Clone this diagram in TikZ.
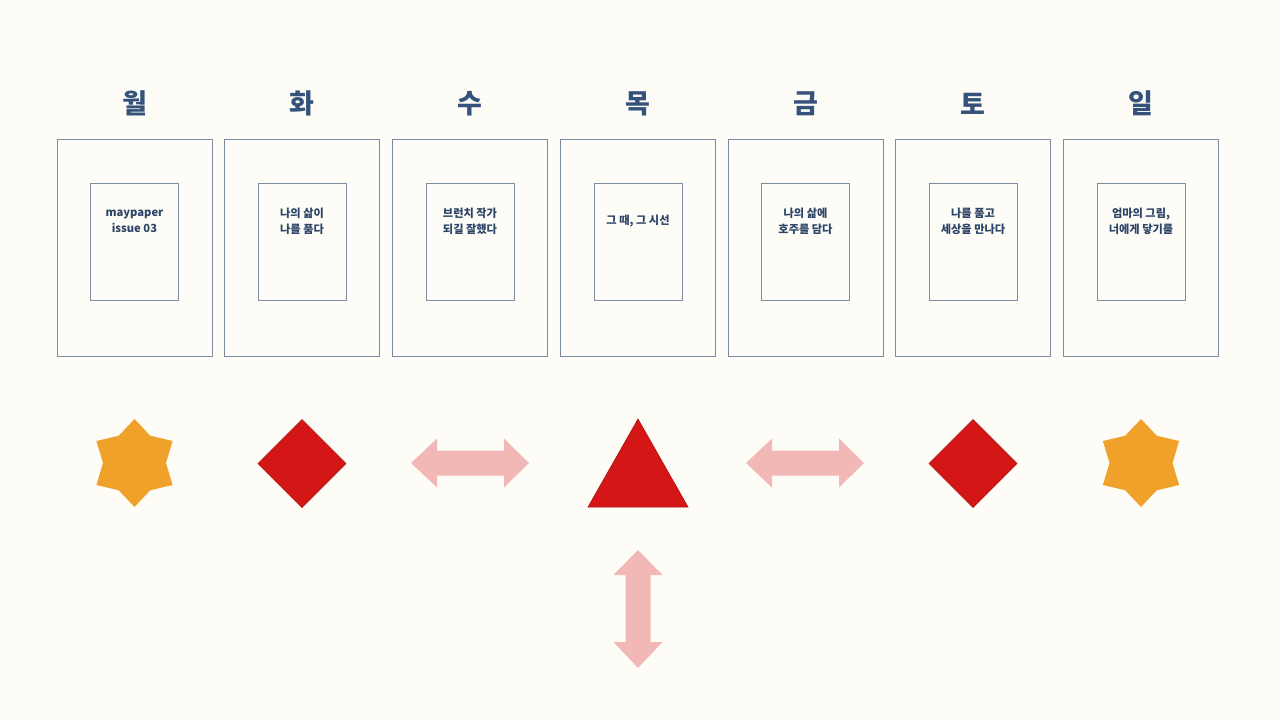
\documentclass[tikz,border=0pt]{standalone}
\usepackage{fontspec}
\setmainfont{Noto Sans CJK KR}
\usetikzlibrary{calc}
\definecolor{bgcream}{HTML}{FEFCF7}
\definecolor{headblue}{HTML}{34527A}
\definecolor{textblue}{HTML}{2C4466}
\definecolor{boxline}{HTML}{7D8CA3}
\definecolor{starorange}{HTML}{F0A12A}
\definecolor{shapered}{HTML}{D41616}
\definecolor{edgered}{HTML}{B01010}
\definecolor{arrowpink}{HTML}{F2B8B5}
\begin{document}
\begin{tikzpicture}[x=1pt,y=-1pt,
  dayhead/.style={font=\fontsize{27}{30}\selectfont\bfseries, text=headblue, inner sep=0pt},
  outerbox/.style={draw=boxline, line width=0.9pt, minimum width=155pt, minimum height=217pt, inner sep=0pt},
  innerbox/.style={draw=boxline, line width=0.9pt, minimum width=88pt, minimum height=117pt, inner sep=0pt},
  covertext/.style={font=\fontsize{11.2}{16}\selectfont\bfseries, text=textblue, align=center, inner sep=0pt},
  dblarrow/.style={fill=arrowpink},
  starshape/.style={fill=starorange},
  redshape/.style={fill=shapered, draw=edgered, line width=0.6pt, line join=miter}
]
\fill[bgcream] (0,0) rectangle (1280,720);
\useasboundingbox (0,0) rectangle (1280,720);

\foreach \n/\cx/\day/\txt in {
  mon/134.5/월/{maypaper\\issue 03},
  tue/302/화/{나의 삶이\\나를 품다},
  wed/470/수/{브런치 작가\\되길 잘했다},
  thu/638/목/{그 때, 그 시선},
  fri/805.5/금/{나의 삶에\\호주를 담다},
  sat/973/토/{나를 품고\\세상을 만나다},
  sun/1141/일/{엄마의 그림,\\너에게 닿기를}} {
  \node[dayhead] (head-\n) at (\cx,103.5) {\day};
  \node[outerbox] (outer-\n) at (\cx,247.5) {};
  \node[innerbox] (inner-\n) at (\cx,241.5) {};
  \node[covertext] (text-\n) at (\cx,221.5) {\txt};
}

% stars
\foreach \n/\cx in {monstar/134.5, sunstar/1141} {
  \coordinate (\n) at (\cx,463);
  \fill[starshape] ($(\n)+(90:44)$)
    -- ($(\n)+(120:31.5)$) -- ($(\n)+(150:44)$) -- ($(\n)+(180:31.5)$)
    -- ($(\n)+(210:44)$) -- ($(\n)+(240:31.5)$) -- ($(\n)+(270:44)$)
    -- ($(\n)+(300:31.5)$) -- ($(\n)+(330:44)$) -- ($(\n)+(0:31.5)$)
    -- ($(\n)+(30:44)$) -- ($(\n)+(60:31.5)$) -- cycle;
}

% diamonds
\foreach \n/\cx in {tuediamond/302, satdiamond/973} {
  \coordinate (\n) at (\cx,463.5);
  \filldraw[redshape] ($(\n)+(0,-44)$) -- ($(\n)+(44,0)$) -- ($(\n)+(0,44)$) -- ($(\n)+(-44,0)$) -- cycle;
}

% triangle
\coordinate (tri) at (638,463);
\filldraw[redshape] ($(tri)+(0,-44)$) -- ($(tri)+(50,44)$) -- ($(tri)+(-50,44)$) -- cycle;

% double arrows
\foreach \n/\cx/\cy/\rot in {arrowwed/470/463/0, arrowfri/805/463/0, arrowdown/638/609/90} {
  \begin{scope}[shift={(\cx,\cy)}, rotate=\rot]
    \fill[dblarrow] (-59,0) -- (-33,-24.5) -- (-33,-12.5) -- (34,-12.5) -- (34,-24.5)
      -- (59,0) -- (34,24.5) -- (34,12.5) -- (-33,12.5) -- (-33,24.5) -- cycle;
  \end{scope}
}
\end{tikzpicture}
\end{document}
